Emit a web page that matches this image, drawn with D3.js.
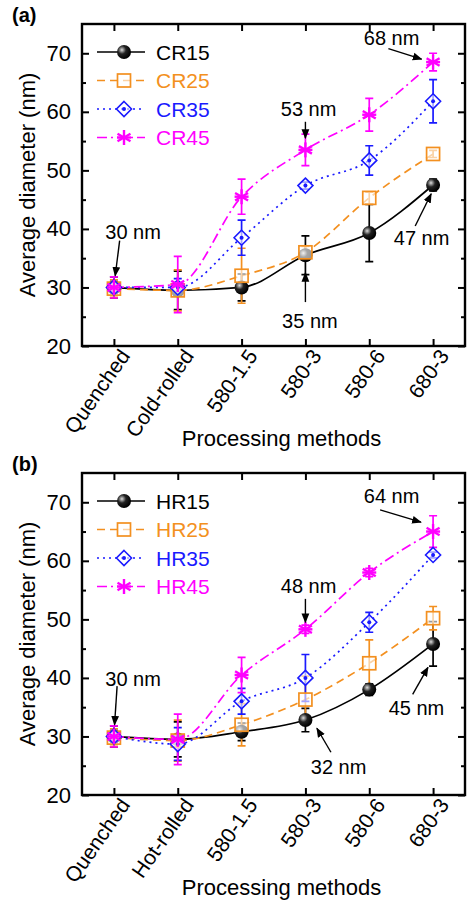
<!DOCTYPE html>
<html><head><meta charset="utf-8">
<script src="https://cdn.jsdelivr.net/npm/d3@7"></script>
<style>body{margin:0;background:#fff}text{font-family:"Liberation Sans",Arial,sans-serif}</style>
</head><body><svg id="chart" width="474" height="913"></svg>
<script>
"use strict";

// Categorías
const catsA = ["Quenched", "Cold-rolled", "580-1.5", "580-3", "580-6", "680-3"];
const catsB = ["Quenched", "Hot-rolled", "580-1.5", "580-3", "580-6", "680-3"];
const yTicks = [20, 30, 40, 50, 60, 70];

// Panel (a): valores y errores
const cr15 = [30, 29.5, 30, 35.5, 39.3, 47.5];
const cr15Err = [1.8, 3.3, 2.3, 3.3, 4.9, 1.0];
const cr25 = [29.8, 29.5, 32, 36, 45.3, 52.8];
const cr25Err = [1.5, 3.5, 4.7, 1.0, 1.0, 0.6];
const cr35 = [30, 30, 38.5, 47.4, 51.7, 61.8];
const cr35Err = [1.0, 1.5, 3.0, 0.6, 2.5, 3.7];
const cr45 = [30, 30.5, 45.5, 53.5, 59.5, 68.5];
const cr45Err = [1.8, 4.8, 3.0, 2.7, 2.8, 1.5];

// Panel (b)
const hr15 = [30, 29.5, 30.8, 32.8, 38, 45.8];
const hr15Err = [1.8, 3.0, 1.5, 2.0, 1.0, 3.8];
const hr25 = [29.8, 29.3, 32, 36.3, 42.5, 50.2];
const hr25Err = [1.5, 3.5, 3.6, 4.0, 4.0, 2.0];
const hr35 = [30, 28.7, 36, 40, 49.5, 61];
const hr35Err = [1.0, 2.8, 2.2, 4.0, 1.7, 0.5];
const hr45 = [30, 29.5, 40.5, 48.3, 58, 65];
const hr45Err = [1.8, 4.3, 3.0, 0.7, 0.7, 2.7];

// Anotaciones: [texto, xTexto, yTexto, x1, y1, x2, y2] en unidades de datos (índice, nm)
const notesA = [
  ["30 nm", 0.3, 39.5, 0.09, 38.0, 0.02, 32],
  ["53 nm", 3.05, 60.5, 3, 58.3, 3, 55.5],
  ["68 nm", 4.35, 72.6, 4.3, 70.8, 4.82, 69.0],
  ["35 nm", 3.07, 24.3, 3, 27.5, 3, 32.5],
  ["47 nm", 4.82, 38.5, 4.72, 40.5, 4.97, 46],
];
const notesB = [
  ["30 nm", 0.3, 39.8, 0.05, 38.6, 0.01, 32],
  ["48 nm", 3.05, 55.7, 3, 53.5, 3, 49.5],
  ["64 nm", 4.35, 71.0, 4.17, 68.7, 4.81, 66.6],
  ["32 nm", 3.52, 24.7, 3.4, 27.3, 3.18, 31.4],
  ["45 nm", 4.74, 34.8, 4.68, 37.2, 4.92, 41.8],
];

const svg = d3.select("#chart");
const defs = svg.append("defs");
const grad = defs.append("radialGradient").attr("id", "ball").attr("cx", "35%").attr("cy", "35%").attr("r", "65%");
grad.append("stop").attr("offset", "0%").attr("stop-color", "#ddd");
grad.append("stop").attr("offset", "45%").attr("stop-color", "#222");
grad.append("stop").attr("offset", "100%").attr("stop-color", "#000");

const styles = [
  { color: "#000", dash: null, marker: "ball" },
  { color: "#f39020", dash: "8,5", marker: "square" },
  { color: "#1a1aff", dash: "2,4", marker: "diamond" },
  { color: "#ff00ff", dash: "10,4,2,4", marker: "star" },
];

function drawMarker(g, type, color) {
  if (type === "ball") {
    g.append("circle").attr("r", 7).attr("fill", "url(#ball)");
  } else if (type === "square") {
    g.append("rect").attr("x", -6.5).attr("y", -6.5).attr("width", 13).attr("height", 13)
      .attr("fill", "#fff").attr("fill-opacity", 0.6).attr("stroke", color).attr("stroke-width", 1.7);
  } else if (type === "diamond") {
    g.append("path").attr("d", "M0,-7.5L7.5,0L0,7.5L-7.5,0Z").attr("fill", "#fff").attr("fill-opacity", 0.6)
      .attr("stroke", color).attr("stroke-width", 1.6);
    g.append("circle").attr("r", 2).attr("fill", color);
  } else {
    [0, 60, 120].forEach((a) => g.append("line").attr("y1", -7.5).attr("y2", 7.5)
      .attr("transform", `rotate(${a})`).attr("stroke", color).attr("stroke-width", 2.4));
    g.append("line").attr("x1", -7).attr("x2", 7).attr("stroke", color).attr("stroke-width", 2.4);
  }
}

defs.append("marker").attr("id", "arrow").attr("viewBox", "0 0 10 10").attr("refX", 9).attr("refY", 5)
  .attr("markerWidth", 7).attr("markerHeight", 7).attr("orient", "auto")
  .append("path").attr("d", "M0,1L10,5L0,9Z").attr("fill", "#000");

function panel(top, label, cats, series, errs, names, notes) {
  const left = 82, right = 465, bottom = top + 322;
  const y = d3.scaleLinear().domain([20, 75]).range([bottom, top]);
  const xs = d3.scaleLinear().domain([-0.5, cats.length - 0.5]).range([left, right]);
  const g = svg.append("g");

  // Ticks interiores (ejes)
  const yMinor = d3.range(25, 75, 10);
  g.append("g").attr("transform", `translate(${left},0)`)
    .call(d3.axisLeft(y).tickValues(yTicks).tickSize(-7).tickPadding(11).tickSizeOuter(0))
    .call((a) => a.selectAll("text").attr("font-size", 22).attr("fill", "#000"));
  g.append("g").attr("transform", `translate(${left},0)`)
    .call(d3.axisLeft(y).tickValues(yMinor).tickSize(-4).tickFormat("").tickSizeOuter(0));
  g.append("g").attr("transform", `translate(${right},0)`)
    .call(d3.axisRight(y).tickValues(yTicks).tickSize(-7).tickFormat("").tickSizeOuter(0));
  g.append("g").attr("transform", `translate(${right},0)`)
    .call(d3.axisRight(y).tickValues(yMinor).tickSize(-4).tickFormat("").tickSizeOuter(0));
  g.append("g").attr("transform", `translate(0,${bottom})`)
    .call(d3.axisBottom(xs).tickValues(d3.range(cats.length)).tickSize(-7).tickSizeOuter(0)
      .tickFormat((i) => cats[i]))
    .call((a) => a.selectAll("text").attr("font-size", 21).attr("fill", "#000")
      .attr("text-anchor", "end").attr("dy", "0.35em")
      .attr("transform", "translate(8,4) rotate(-55)"));
  g.append("g").attr("transform", `translate(0,${top})`)
    .call(d3.axisTop(xs).tickValues(d3.range(cats.length)).tickSize(-7).tickFormat("").tickSizeOuter(0));
  g.selectAll(".domain").remove();
  g.selectAll(".tick line").attr("stroke", "#000").attr("stroke-width", 2);
  g.append("rect").attr("x", left).attr("y", top).attr("width", right - left).attr("height", bottom - top)
    .attr("fill", "none").attr("stroke", "#000").attr("stroke-width", 2.4);

  const line = d3.line().x((d, i) => xs(i)).y((d) => y(d)).curve(d3.curveMonotoneX);
  series.forEach((s, k) => {
    const st = styles[k];
    g.append("path").datum(s).attr("d", line).attr("fill", "none").attr("stroke", st.color)
      .attr("stroke-width", 1.7).attr("stroke-dasharray", st.dash);
  });
  series.forEach((s, k) => {
    const st = styles[k];
    s.forEach((v, i) => {
      const e = errs[k][i], px = xs(i);
      g.append("path").attr("d", `M${px - 4},${y(v + e)}H${px + 4}M${px},${y(v + e)}V${y(v - e)}M${px - 4},${y(v - e)}H${px + 4}`)
        .attr("stroke", st.color).attr("stroke-width", 1.7).attr("fill", "none");
    });
  });
  series.forEach((s, k) => {
    s.forEach((v, i) => drawMarker(g.append("g").attr("transform", `translate(${xs(i)},${y(v)})`), styles[k].marker, styles[k].color));
  });

  // Leyenda
  names.forEach((n, k) => {
    const ly = top + 28 + k * 28.5, st = styles[k];
    g.append("line").attr("x1", 97).attr("x2", 145).attr("y1", ly).attr("y2", ly)
      .attr("stroke", st.color).attr("stroke-width", 1.7).attr("stroke-dasharray", st.dash);
    drawMarker(g.append("g").attr("transform", `translate(124,${ly})`), st.marker, st.color);
    g.append("text").attr("x", 156).attr("y", ly).attr("dy", "0.36em").attr("font-size", 21)
      .attr("fill", st.color).text(n);
  });

  // Anotaciones
  notes.forEach(([t, tx, ty, x1, y1, x2, y2]) => {
    g.append("text").attr("x", xs(tx)).attr("y", y(ty)).attr("dy", "0.35em").attr("text-anchor", "middle")
      .attr("font-size", 20).text(t);
    g.append("line").attr("x1", xs(x1)).attr("y1", y(y1)).attr("x2", xs(x2)).attr("y2", y(y2))
      .attr("stroke", "#000").attr("stroke-width", 1.4).attr("marker-end", "url(#arrow)");
  });

  g.append("text").attr("x", 12).attr("y", top - 2).attr("font-family", "Liberation Serif")
    .attr("font-weight", "bold").attr("font-size", 20).text(label);
  g.append("text").attr("transform", `translate(27,${(top + bottom) / 2}) rotate(-90)`)
    .attr("text-anchor", "middle").attr("dy", "0.35em").attr("font-size", 22).text("Average diameter (nm)");
  g.append("text").attr("x", (left + right) / 2 + 8).attr("y", bottom + 100).attr("text-anchor", "middle")
    .attr("font-size", 22).text("Processing methods");
}

panel(24, "(a)", catsA, [cr15, cr25, cr35, cr45], [cr15Err, cr25Err, cr35Err, cr45Err], ["CR15", "CR25", "CR35", "CR45"], notesA);
panel(473, "(b)", catsB, [hr15, hr25, hr35, hr45], [hr15Err, hr25Err, hr35Err, hr45Err], ["HR15", "HR25", "HR35", "HR45"], notesB);
</script></body></html>
